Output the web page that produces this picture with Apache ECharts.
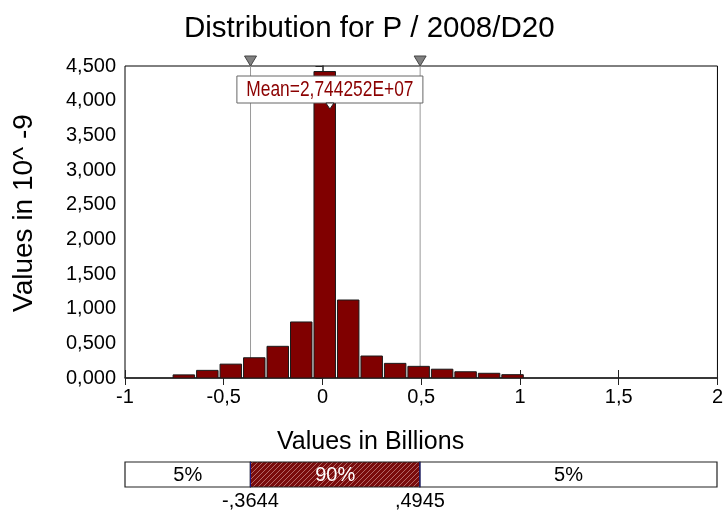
<!DOCTYPE html>
<html><head><meta charset="utf-8">
<script src="https://cdn.jsdelivr.net/npm/echarts@6/dist/echarts.min.js"></script>
<style>html,body{margin:0;padding:0;background:#fff}#c{width:726px;height:515px}</style>
</head><body><div id="c"></div>
<script>
// ---- data ----
const titleText = 'Distribution for P / 2008/D20';
const yAxisTitle = 'Values in 10^ -9';
const xAxisTitle = 'Values in Billions';
const binEdges = [-0.7615, -0.6426, -0.5237, -0.4048, -0.2859, -0.1670, -0.0481, 0.0708, 0.1897, 0.3086, 0.4275, 0.5464, 0.6653, 0.7842, 0.9031, 1.0220];
const binHeights = [0.045, 0.110, 0.200, 0.292, 0.457, 0.808, 4.420, 1.125, 0.317, 0.211, 0.168, 0.127, 0.090, 0.068, 0.048];
const xRange = [-1, 2];
const xStep = 0.5;
const yRange = [0, 4.5];
const yStep = 0.5;
const meanValue = 0.02744252;
const meanText = 'Mean=2,744252E+07';
const pctBounds = [-0.3644, 0.4945];
const pctBoundLabels = ['-,3644', ',4945'];
const segLabels = ['5%', '90%', '5%'];

const FONT = '"Liberation Sans", Arial, sans-serif';

// hatch pattern
const pc = document.createElement('canvas');
pc.width = 5; pc.height = 5;
const g = pc.getContext('2d');
g.fillStyle = '#7a0c0c'; g.fillRect(0,0,5,5);
g.strokeStyle = 'rgba(220,170,170,0.75)'; g.lineWidth = 0.8;
g.beginPath();
g.moveTo(0,5); g.lineTo(5,0);
g.moveTo(-1,1); g.lineTo(1,-1);
g.moveTo(4,6); g.lineTo(6,4);
g.stroke();
const hatch = {image: pc, repeat: 'repeat'};

const fmtComma = (v, d) => v.toFixed(d).replace('.', ',');

const histData = binHeights.map((h, i) => [binEdges[i], binEdges[i+1], h]);
const segBounds = [xRange[0], pctBounds[0], pctBounds[1], xRange[1]];
const segData = segLabels.map((s, i) => [segBounds[i], segBounds[i+1], i]);

const chart = echarts.init(document.getElementById('c'), null, {renderer: 'canvas'});

function renderBar(params, api) {
  const a = api.coord([api.value(0), api.value(2)]);
  const b = api.coord([api.value(1), 0]);
  return {type: 'rect', shape: {x: a[0] + 1, y: a[1], width: b[0] - a[0] - 2, height: b[1] - a[1]},
    style: {fill: '#800000', stroke: '#1a1a1a', lineWidth: 1}};
}
function renderSeg(params, api) {
  const i = api.value(2);
  const a = api.coord([api.value(0), 1]);
  const b = api.coord([api.value(1), 0]);
  const children = [{type: 'rect', shape: {x: a[0], y: a[1], width: b[0] - a[0], height: b[1] - a[1]},
      style: {fill: i === 1 ? hatch : '#fff', stroke: '#222', lineWidth: 1.2}},
    {type: 'text', style: {text: segLabels[i], x: (a[0] + b[0]) / 2, y: (a[1] + b[1]) / 2 + 1, align: 'center', verticalAlign: 'middle',
      fill: i === 1 ? '#fff' : '#000', font: '20px ' + FONT}}];
  if (i > 0) {
    children.push({type: 'line', shape: {x1: a[0], y1: a[1], x2: a[0], y2: b[1]}, style: {stroke: '#1a1a8c', lineWidth: 1}});
    children.push({type: 'text', style: {text: pctBoundLabels[i - 1], x: a[0], y: b[1] + 4, align: 'center', verticalAlign: 'top', fill: '#000', font: '20px ' + FONT}});
  }
  return {type: 'group', children};
}

chart.setOption({
  animation: false,
  backgroundColor: '#fff',
  title: [
    {text: titleText, left: 179, top: 9, textStyle: {fontFamily: FONT, fontSize: 29.5, fontWeight: 'normal', color: '#000'}},
    {text: xAxisTitle, left: 272, top: 425, textStyle: {fontFamily: FONT, fontSize: 25, fontWeight: 'normal', color: '#000'}}
  ],
  grid: [
    {left: 125, top: 66, width: 595, height: 312, show: true, borderColor: '#000', borderWidth: 1, backgroundColor: 'transparent'},
    {left: 125, top: 462, width: 592, height: 25}
  ],
  xAxis: [
    {type: 'value', gridIndex: 0, min: xRange[0], max: xRange[1], interval: xStep,
      axisLine: {lineStyle: {color: '#222', width: 1.5}}, axisTick: {length: 7, lineStyle: {color: '#222'}},
      axisLabel: {margin: 9, color: '#000', fontSize: 20, fontFamily: FONT, formatter: v => fmtComma(v, v % 1 === 0 ? 0 : 1).replace(/^-?0$/, '0')},
      splitLine: {show: false}},
    {type: 'value', gridIndex: 0, min: xRange[0], max: xRange[1], interval: xStep, position: 'bottom',
      axisLine: {show: false}, axisTick: {inside: true, length: 8, lineStyle: {color: '#222'}}, axisLabel: {show: false}, splitLine: {show: false}},
    {type: 'value', gridIndex: 1, min: xRange[0], max: xRange[1], show: false}
  ],
  yAxis: [
    {type: 'value', gridIndex: 0, min: yRange[0], max: yRange[1], interval: yStep,
      axisLine: {show: true, lineStyle: {color: '#222', width: 1.5}}, axisTick: {show: true, length: 7, lineStyle: {color: '#222'}},
      axisLabel: {margin: 9, color: '#000', fontSize: 20, fontFamily: FONT, formatter: v => fmtComma(v, 3)},
      splitLine: {show: false},
      name: yAxisTitle, nameLocation: 'middle', nameGap: 87, nameRotate: 90,
      nameTextStyle: {fontSize: 28, fontFamily: FONT, color: '#000', padding: [0, 0, 0, 18]}},
    {type: 'value', gridIndex: 1, min: 0, max: 1, show: false}
  ],
  series: [
    {type: 'custom', xAxisIndex: 0, yAxisIndex: 0, renderItem: renderBar, data: histData, encode: {x: [0, 1], y: 2}, clip: true, z: 3},
    {type: 'custom', xAxisIndex: 2, yAxisIndex: 1, renderItem: renderSeg, data: segData, encode: {x: [0, 1]}, z: 3}
  ]
});

// overlay markers positioned via the chart's own scales
const px = v => chart.convertToPixel({gridIndex: 0}, v);
const topY = px([0, yRange[1]])[1];
const botY = px([0, yRange[0]])[1];
const graphics = [];
pctBounds.forEach(b => {
  const x = px([b, 0])[0];
  graphics.push({type: 'line', shape: {x1: x, y1: topY, x2: x, y2: botY}, style: {stroke: '#9a9a9a', lineWidth: 1}, z: 2});
  graphics.push({type: 'polygon', shape: {points: [[x - 6, topY - 10], [x + 6, topY - 10], [x, topY]]}, style: {fill: '#808080', stroke: '#444', lineWidth: 1}, z: 10});
});
const mx = px([meanValue, 0])[0] + 2;
graphics.push({type: 'rect', shape: {x: mx - 93, y: topY + 10, width: 186, height: 27}, style: {fill: '#fff', stroke: '#666', lineWidth: 1}, z: 20});
graphics.push({type: 'text', x: mx, y: topY + 24, scaleX: 0.79, style: {text: meanText, x: 0, y: 0, align: 'center', verticalAlign: 'middle', fill: '#8b0000', font: '22px ' + FONT}, z: 21});
graphics.push({type: 'polygon', shape: {points: [[mx - 4, topY + 37], [mx + 4, topY + 37], [mx, topY + 43]]}, style: {fill: '#fff', stroke: '#222', lineWidth: 1}, z: 22});
chart.setOption({graphic: graphics});
</script></body></html>
